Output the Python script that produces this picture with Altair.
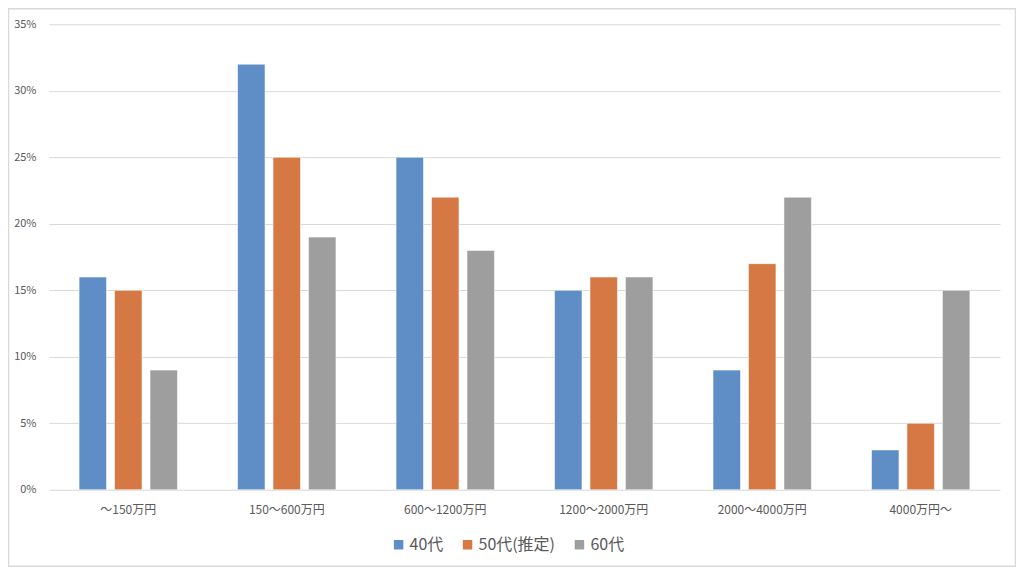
import altair as alt
import pandas as pd

categories = ["～150万円", "150～600万円", "600～1200万円", "1200～2000万円", "2000～4000万円", "4000万円～"]
series = ["40代", "50代(推定)", "60代"]
v40 = [16, 32, 25, 15, 9, 3]
v50 = [15, 25, 22, 16, 17, 5]
v60 = [9, 19, 18, 16, 22, 15]
colors = ["#5F8DC6", "#D57843", "#9E9E9E"]

rows = []
for s, vals in zip(series, [v40, v50, v60]):
    for c, v in zip(categories, vals):
        rows.append({"cat": c, "series": s, "value": v})
df = pd.DataFrame(rows)

FONT = "Noto Sans CJK JP"

bars = alt.Chart(df).mark_bar(stroke="white", strokeWidth=0.8, strokeOpacity=0.7).encode(
    x=alt.X("cat:N", sort=categories, title=None,
            scale=alt.Scale(paddingInner=0.379, paddingOuter=0.19),
            axis=alt.Axis(labelAngle=0, domain=False, ticks=False, labelPadding=15,
                          labelFontSize=12, labelColor="#595959", labelFont=FONT)),
    xOffset=alt.XOffset("series:N", sort=series,
                        scale=alt.Scale(paddingInner=0.225, paddingOuter=0)),
    y=alt.Y("value:Q", title=None,
            scale=alt.Scale(domain=[0, 35]),
            axis=alt.Axis(values=[0, 5, 10, 15, 20, 25, 30, 35], labelExpr="datum.value + '%'",
                          domain=False, ticks=False, labelPadding=13, gridColor="#D9D9D9",
                          labelFontSize=11, labelColor="#595959", labelFont=FONT)),
    color=alt.Color("series:N", sort=series, title=None,
                    scale=alt.Scale(domain=series, range=colors),
                    legend=alt.Legend(orient="none", legendX=342, legendY=513, direction="horizontal",
                                      symbolType="square", symbolSize=90, symbolStrokeWidth=0,
                                      labelFontSize=16, labelColor="#595959", labelFont=FONT,
                                      columnPadding=16, symbolOffset=0, labelOffset=3)),
)

frame = alt.Chart(pd.DataFrame({"a": [0]})).mark_rect(fill=None, stroke="#D9D9D9", strokeWidth=1.5).encode(
    x=alt.value(-40.5), x2=alt.value(967.5), y=alt.value(-15.5), y2=alt.value(542.5)
)

chart = alt.layer(frame, bars).properties(
    width=952, height=466,
    autosize=alt.AutoSizeParams(type="none"),
    padding={"left": 41, "top": 16, "right": 16, "bottom": 77},
    background="white",
).configure_view(stroke=None)

chart.save("out.html", embed_options={"renderer": "svg", "actions": False})
